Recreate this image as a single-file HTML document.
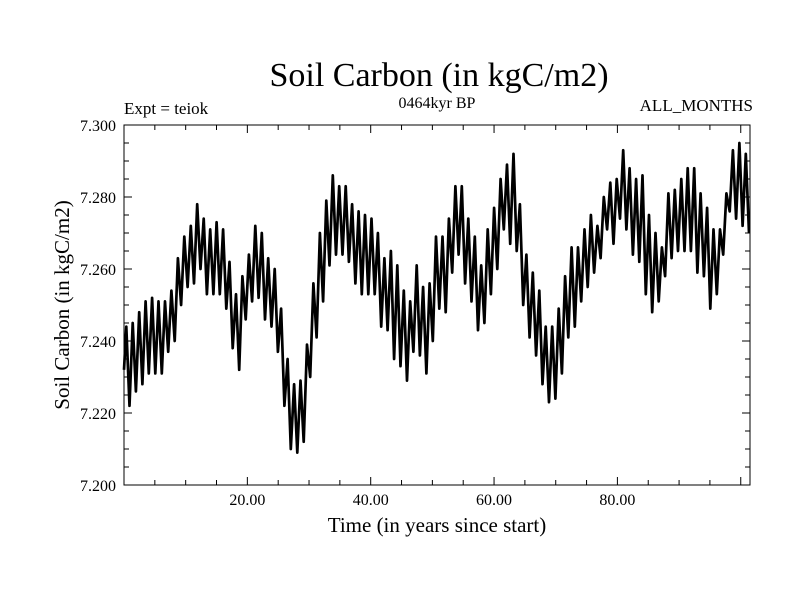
<!DOCTYPE html>
<html><head><meta charset="utf-8"><style>
body{margin:0;background:#fff}
svg{display:block;font-family:"Liberation Serif",serif}
</style></head><body>
<svg id="chart" width="800" height="600" viewBox="0 0 800 600">
<text x="439" y="86" font-size="34" text-anchor="middle">Soil Carbon (in kgC/m2)</text>
<text x="124" y="114" font-size="17">Expt = teiok</text>
<text x="437" y="108" font-size="16" text-anchor="middle">0464kyr BP</text>
<text x="753" y="111" font-size="17" text-anchor="end">ALL_MONTHS</text>
<text x="437" y="532" font-size="21" text-anchor="middle">Time (in years since start)</text>
<text x="0" y="0" font-size="21" text-anchor="middle" transform="translate(69,305) rotate(-90)">Soil Carbon (in kgC/m2)</text>
<g id="axes"></g>
<path id="series" fill="none" stroke="#000" stroke-width="2.7" stroke-linejoin="round"></path>
<rect x="124" y="125" width="626" height="360" fill="none" stroke="#000" stroke-width="1"></rect>
</svg>
<script>
const yTickValues=[7.200,7.220,7.240,7.260,7.280,7.300];
const yTickLabels=["7.200","7.220","7.240","7.260","7.280","7.300"];
const xTickValues=[20,40,60,80];
const xTickLabels=["20.00","40.00","60.00","80.00"];
const annualPeaks=[7.244,7.245,7.248,7.251,7.252,7.251,7.251,7.254,7.263,7.269,7.272,7.278,7.274,7.271,7.273,7.271,7.262,7.253,7.258,7.264,7.272,7.270,7.263,7.260,7.249,7.235,7.228,7.229,7.239,7.256,7.270,7.279,7.286,7.283,
7.283,7.278,7.276,7.275,7.274,7.270,7.263,7.265,7.261,7.254,7.251,7.261,7.255,7.256,7.269,7.269,7.274,7.283,7.283,7.274,7.269,7.261,7.271,7.277,7.285,7.289,7.292,7.278,7.264,7.259,7.254,7.244,7.244,
7.249,7.258,7.266,7.266,7.271,7.275,7.272,7.280,7.284,7.285,7.293,7.288,7.285,7.286,7.275,7.270,7.266,7.281,7.282,7.285,7.288,7.288,7.281,7.277,7.271,7.271,7.281,7.293,7.295,7.292];
const annualTroughs=[7.222,7.226,7.228,7.231,7.231,7.231,7.237,7.240,7.250,7.255,7.256,7.260,7.253,7.253,7.253,7.249,7.238,7.232,7.246,7.251,7.252,7.246,7.244,7.237,7.222,7.210,7.209,7.212,7.230,7.241,7.251,7.261,7.264,7.264,
7.262,7.256,7.253,7.253,7.253,7.244,7.243,7.235,7.233,7.229,7.237,7.236,7.231,7.240,7.249,7.248,7.259,7.264,7.256,7.251,7.243,7.245,7.253,7.260,7.271,7.267,7.265,7.250,7.241,7.236,7.228,7.223,7.224,
7.231,7.241,7.244,7.251,7.255,7.259,7.263,7.271,7.267,7.274,7.271,7.264,7.262,7.253,7.248,7.251,7.258,7.263,7.265,7.265,7.265,7.259,7.258,7.249,7.253,7.264,7.276,7.274,7.272,7.270];
const startValue=7.232;
const X0=124,X1=750,Y0=485,Y1=125,XMIN=0,XMAX=101.5,YMIN=7.2,YMAX=7.3;
const sx=v=>X0+(v-XMIN)/(XMAX-XMIN)*(X1-X0);
const sy=v=>Y0-(v-YMIN)/(YMAX-YMIN)*(Y0-Y1);
const NS="http://www.w3.org/2000/svg";
const axes=document.getElementById('axes');
function mk(tag,attrs,txt){const e=document.createElementNS(NS,tag);for(const k in attrs)e.setAttribute(k,attrs[k]);if(txt!==undefined)e.textContent=txt;axes.appendChild(e);return e;}
for(let v=YMIN;v<=YMAX+1e-9;v+=0.005){
  const y=sy(v);const major=Math.abs(Math.round(v*1000)%20)<1;const L=major?8:5;
  const t1=mk('line',{x1:X0,x2:X0+L,y1:y,y2:y,stroke:'#000'});
  
  
  const t2=mk('line',{x1:X1,x2:X1-L,y1:y,y2:y,stroke:'#000'});
  
  
}
yTickValues.forEach((v,i)=>{
  const t=mk('text',{x:116,y:sy(v)+6,'font-size':16,'text-anchor':'end'},yTickLabels[i]);
  
  
});
for(let v=5;v<XMAX;v+=5){
  const x=sx(v);const L=(v%20===0)?8:5;
  const t1=mk('line',{x1:x,x2:x,y1:Y0,y2:Y0-L,stroke:'#000'});
  
  
  const t2=mk('line',{x1:x,x2:x,y1:Y1,y2:Y1+L,stroke:'#000'});
  
  
}
xTickValues.forEach((v,i)=>{
  const t=mk('text',{x:sx(v),y:505,'font-size':16,'text-anchor':'middle'},xTickLabels[i]);
  
  
});
const step=XMAX/annualPeaks.length;
let d='M'+sx(0).toFixed(1)+','+sy(startValue).toFixed(1);
for(let i=0;i<annualPeaks.length;i++){
  d+=' L'+sx(i*step+step*0.35).toFixed(1)+','+sy(annualPeaks[i]).toFixed(1);
  d+=' L'+sx(i*step+step*0.85).toFixed(1)+','+sy(annualTroughs[i]).toFixed(1);
}
document.getElementById('series').setAttribute('d',d);
</script>
</body></html>
